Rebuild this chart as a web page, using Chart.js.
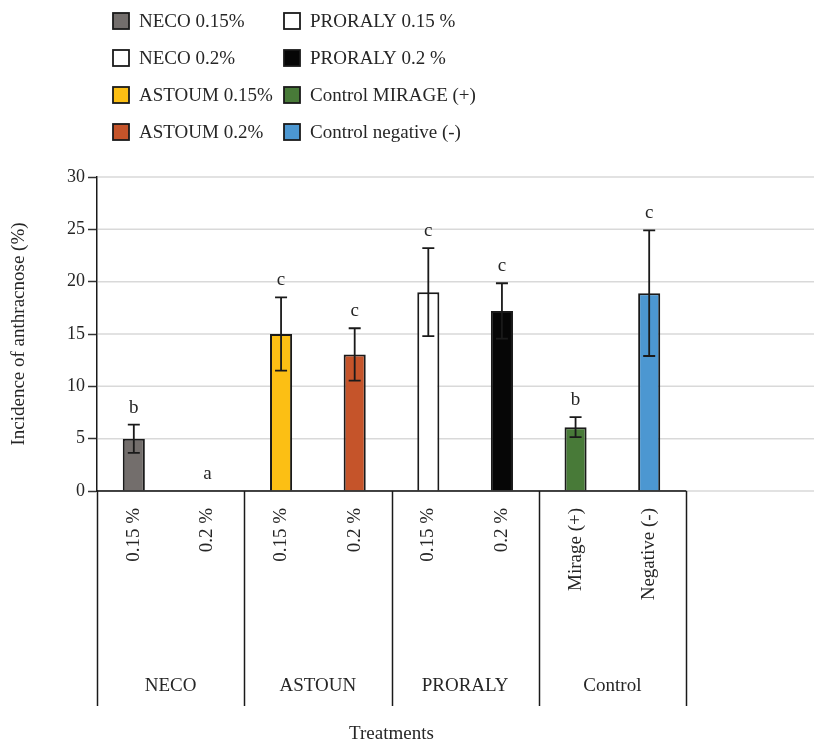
<!DOCTYPE html>
<html>
<head>
<meta charset="utf-8">
<script src="https://cdn.jsdelivr.net/npm/chart.js@4.4.1/dist/chart.umd.min.js"></script>
<style>
  html, body { margin: 0; padding: 0; background: #fff; }
  #wrap { width: 814px; height: 744px; }
</style>
</head>
<body>
<div id="wrap"><canvas id="chart" width="814" height="744"></canvas></div>
<script>
// data
const categories = ["0.15 %", "0.2 %", "0.15 %", "0.2 %", "0.15 %", "0.2 %", "Mirage (+)", "Negative (-)"];
const groups = ["NECO", "ASTOUN", "PRORALY", "Control"];
const incidence = [5, 0, 15, 13.05, 19, 17.2, 6.1, 18.9];
const errors = [1.35, 0, 3.5, 2.5, 4.2, 2.65, 0.95, 6];
const letters = ["b", "a", "c", "c", "c", "c", "b", "c"];
const legendLabels = [
  "NECO 0.15%", "NECO 0.2%", "ASTOUM 0.15%", "ASTOUM 0.2%",
  "PRORALY 0.15 %", "PRORALY 0.2 %", "Control MIRAGE (+)", "Control negative (-)"
];
const barColors = ["#736e6c", "#ffffff", "#fcbf14", "#c5542a", "#ffffff", "#060606", "#487a38", "#4c97d1"];

const FONT = "'Liberation Serif', 'Times New Roman', serif";
const TEXT = "#262626";
const DARK = "#1a1a1a";

const extras = {
  id: "extras",
  beforeDatasetsDraw(chart) {
    // gridlines run on past the last group to the page edge
    const { ctx, chartArea, scales: { y } } = chart;
    ctx.save();
    ctx.strokeStyle = "#d9d9d9";
    ctx.lineWidth = 1.5;
    for (const t of y.ticks) {
      const py = y.getPixelForValue(t.value);
      ctx.beginPath();
      ctx.moveTo(chartArea.left + 1, py);
      ctx.lineTo(chart.width, py);
      ctx.stroke();
    }
    ctx.restore();
  },
  afterDatasetsDraw(chart) {
    const { ctx, chartArea, scales: { x, y } } = chart;
    const meta = chart.getDatasetMeta(0);
    ctx.save();
    ctx.strokeStyle = DARK;
    ctx.lineWidth = 1.8;
    ctx.fillStyle = TEXT;
    ctx.font = `19px ${FONT}`;
    ctx.textAlign = "center";
    ctx.textBaseline = "middle";
    meta.data.forEach((bar, i) => {
      const hi = y.getPixelForValue(incidence[i] + errors[i]);
      const lo = y.getPixelForValue(incidence[i] - errors[i]);
      if (errors[i] > 0) {
        ctx.beginPath();
        ctx.moveTo(bar.x, hi); ctx.lineTo(bar.x, lo);
        ctx.moveTo(bar.x - 6, hi); ctx.lineTo(bar.x + 6, hi);
        ctx.moveTo(bar.x - 6, lo); ctx.lineTo(bar.x + 6, lo);
        ctx.stroke();
      }
      ctx.fillText(letters[i], bar.x, hi - 17);
    });

    // baseline and group boxes under the axis
    ctx.lineWidth = 1.5;
    ctx.beginPath();
    ctx.moveTo(chartArea.left, chartArea.bottom);
    ctx.lineTo(chartArea.right, chartArea.bottom);
    ctx.stroke();
    for (let g = 0; g <= groups.length; g++) {
      const px = Math.round(x.getPixelForValue(2 * g - 0.5)) + 0.5;
      ctx.beginPath();
      ctx.moveTo(px, chartArea.bottom);
      ctx.lineTo(px, 706);
      ctx.stroke();
    }
    groups.forEach((name, g) => {
      ctx.fillText(name, x.getPixelForValue(2 * g + 0.5), 686);
    });
    ctx.restore();
  },
  afterDraw(chart) {
    const { ctx } = chart;
    ctx.save();
    ctx.font = `19px ${FONT}`;
    ctx.textAlign = "left";
    ctx.textBaseline = "middle";
    legendLabels.forEach((label, i) => {
      const col = Math.floor(i / 4), row = i % 4;
      const bx = col ? 284 : 113;
      const cy = 21 + row * 37;
      ctx.fillStyle = barColors[i];
      ctx.fillRect(bx, cy - 8, 16, 16);
      ctx.strokeStyle = DARK;
      ctx.lineWidth = 1.8;
      ctx.strokeRect(bx, cy - 8, 16, 16);
      ctx.fillStyle = TEXT;
      ctx.fillText(label, bx + 26, cy + 1);
    });
    ctx.restore();
  }
};

new Chart(document.getElementById("chart"), {
  type: "bar",
  data: {
    labels: categories,
    datasets: [{
      data: incidence,
      backgroundColor: barColors,
      borderColor: DARK,
      borderWidth: 2,
      categoryPercentage: 1,
      barPercentage: 0.3,
    }],
  },
  options: {
    responsive: false,
    animation: false,
    layout: { padding: { top: 177, right: 128, left: 0, bottom: 0 } },
    plugins: { legend: { display: false }, tooltip: { enabled: false } },
    scales: {
      x: {
        grid: { display: false, drawTicks: false },
        border: { display: true, color: "#333", width: 1.5 },
        ticks: {
          autoSkip: false, minRotation: 90, maxRotation: 90, padding: 17,
          color: TEXT, font: { family: FONT, size: 19 },
        },
        title: {
          display: true, text: "Treatments", color: TEXT, padding: 0,
          font: { family: FONT, size: 19, lineHeight: 1 },
        },
        afterFit(s) { s.height = 253; },
      },
      y: {
        min: 0, max: 30,
        grid: {
          drawOnChartArea: false,
          tickColor: "#333", tickLength: 9, tickWidth: 1.5,
        },
        border: { color: DARK, width: 1.5 },
        ticks: { stepSize: 5, padding: 3, color: TEXT, font: { family: FONT, size: 18 } },
        title: {
          display: true, text: "Incidence of anthracnose (%)", color: TEXT,
          padding: { top: 8, bottom: 0 }, font: { family: FONT, size: 19 },
        },
        afterFit(s) { s.width = 97; },
      },
    },
  },
  plugins: [extras],
});
</script>
</body>
</html>
